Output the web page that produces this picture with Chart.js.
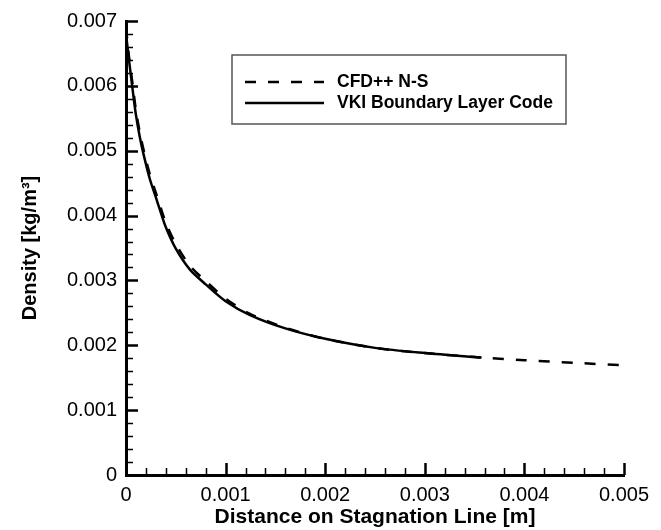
<!DOCTYPE html>
<html>
<head>
<meta charset="utf-8">
<script src="https://cdn.jsdelivr.net/npm/chart.js@4.4.1/dist/chart.umd.min.js"></script>
<style>
  html, body { margin: 0; padding: 0; background: #fff; }
  #wrap { width: 661px; height: 530px; }
</style>
</head>
<body>
<div id="wrap"><canvas id="densityChart" width="661" height="530"></canvas></div>
<script>
// Density along the stagnation line
const cfdX = [0, 0.00003, 0.00007, 0.0001, 0.00014, 0.00018, 0.00024, 0.0003, 0.0004, 0.0005, 0.00064, 0.0008, 0.001, 0.00124, 0.0016, 0.002, 0.0025, 0.003, 0.0035, 0.004, 0.0045, 0.005];
const cfdDensity = [0.0069, 0.00645, 0.00598, 0.00562, 0.00527, 0.00499, 0.00463, 0.00435, 0.00389, 0.00356, 0.00323, 0.00299, 0.00272, 0.00249, 0.00227, 0.0021, 0.00196, 0.00188, 0.00182, 0.00177, 0.00173, 0.00169];

const vkiX = [0, 0.00003, 0.00007, 0.0001, 0.00014, 0.00018, 0.00024, 0.0003, 0.00034, 0.0004, 0.0005, 0.00064, 0.0008, 0.001, 0.00124, 0.0016, 0.002, 0.0025, 0.003, 0.00357];
const vkiDensity = [0.0068, 0.0064, 0.0059, 0.00555, 0.0052, 0.00492, 0.00456, 0.00428, 0.00409, 0.00382, 0.00349, 0.00317, 0.00294, 0.00268, 0.00247, 0.00226, 0.0021, 0.00196, 0.00188, 0.00181];

const seriesNames = ['CFD++ N-S', 'VKI Boundary Layer Code'];
const xMajorStep = 0.001, xMinorStep = 0.0002;
const yMajorStep = 0.001, yMinorStep = 0.0002;

const toPoints = (xs, ys) => xs.map((x, i) => ({ x: x, y: ys[i] }));
const fmt = v => (Math.abs(v) < 1e-12 ? '0' : v.toFixed(3));

// inward tick marks (major + minor) on left and bottom axes
const inwardTicks = {
    id: 'inwardTicks',
    afterDatasetsDraw(chart) {
        const ctx = chart.ctx;
        const xs = chart.scales.x, ys = chart.scales.y;
        const left = chart.chartArea.left, bottom = chart.chartArea.bottom;
        ctx.save();
        ctx.strokeStyle = '#000';
        const nx = Math.round((xs.max - xs.min) / xMinorStep);
        for (let i = 0; i <= nx; i++) {
            const v = xs.min + i * xMinorStep;
            const major = i % Math.round(xMajorStep / xMinorStep) === 0;
            const px = Math.round(xs.getPixelForValue(v)) + 0.5;
            ctx.lineWidth = major ? 2.5 : 1.5;
            ctx.beginPath();
            ctx.moveTo(px, bottom);
            ctx.lineTo(px, bottom - (major ? 12 : 7));
            ctx.stroke();
        }
        const ny = Math.round((ys.max - ys.min) / yMinorStep);
        for (let i = 0; i <= ny; i++) {
            const v = ys.min + i * yMinorStep;
            const major = i % Math.round(yMajorStep / yMinorStep) === 0;
            const py = Math.round(ys.getPixelForValue(v)) + 0.5;
            ctx.lineWidth = major ? 2.5 : 1.5;
            ctx.beginPath();
            ctx.moveTo(left, py);
            ctx.lineTo(left + (major ? 12 : 7), py);
            ctx.stroke();
        }
        ctx.restore();
    }
};

// boxed legend inside the plot
const boxLegend = {
    id: 'boxLegend',
    afterDraw(chart) {
        const ctx = chart.ctx;
        const bx = 232, by = 55, bw = 334, bh = 69;
        ctx.save();
        ctx.strokeStyle = '#555';
        ctx.lineWidth = 1.5;
        ctx.strokeRect(bx, by, bw, bh);
        ctx.font = 'bold 17.5px "Liberation Sans", Arial, sans-serif';
        ctx.textBaseline = 'middle';
        ctx.fillStyle = '#000';
        const rows = [82, 103];
        chart.data.datasets.forEach((ds, i) => {
            ctx.strokeStyle = ds.borderColor;
            ctx.lineWidth = ds.borderWidth;
            ctx.setLineDash(ds.borderDash || []);
            ctx.beginPath();
            ctx.moveTo(245, rows[i]);
            ctx.lineTo(324, rows[i]);
            ctx.stroke();
            ctx.setLineDash([]);
            ctx.fillText(ds.label, 337, rows[i]);
        });
        ctx.restore();
    }
};

const ctx = document.getElementById('densityChart');

new Chart(ctx, {
    type: 'line',
    data: {
        datasets: [{
            label: seriesNames[0],
            data: toPoints(cfdX, cfdDensity),
            borderColor: '#000',
            borderWidth: 2.5,
            borderDash: [11, 12],
            pointRadius: 0,
            tension: 0.3,
            fill: false
        }, {
            label: seriesNames[1],
            data: toPoints(vkiX, vkiDensity),
            borderColor: '#000',
            borderWidth: 2.5,
            pointRadius: 0,
            tension: 0.3,
            fill: false
        }]
    },
    options: {
        responsive: false,
        animation: false,
        layout: {
            padding: { top: 21, right: 37, left: 0, bottom: 0 }
        },
        plugins: {
            legend: { display: false },
            tooltip: { enabled: false }
        },
        scales: {
            x: {
                type: 'linear',
                min: 0,
                max: 0.005,
                afterFit: s => { s.height = 55; },
                grid: { display: false, drawTicks: false },
                border: { display: true, color: '#000', width: 3 },
                ticks: {
                    stepSize: xMajorStep,
                    padding: 8,
                    color: '#000',
                    font: { family: '"Liberation Sans", Arial, sans-serif', size: 20 },
                    callback: v => fmt(v)
                },
                title: {
                    display: true,
                    text: 'Distance on Stagnation Line [m]',
                    color: '#000',
                    padding: { top: 0, bottom: 0 },
                    font: { family: '"Liberation Sans", Arial, sans-serif', size: 21, weight: 'bold' }
                }
            },
            y: {
                type: 'linear',
                min: 0,
                max: 0.007,
                afterFit: s => { s.width = 126; },
                grid: { display: false, drawTicks: false },
                border: { display: true, color: '#000', width: 3 },
                ticks: {
                    stepSize: yMajorStep,
                    padding: 9,
                    color: '#000',
                    font: { family: '"Liberation Sans", Arial, sans-serif', size: 20 },
                    callback: v => fmt(v)
                },
                title: {
                    display: true,
                    text: 'Density [kg/m³]',
                    color: '#000',
                    padding: { top: 18, bottom: 0 },
                    font: { family: '"Liberation Sans", Arial, sans-serif', size: 20, weight: 'bold' }
                }
            }
        }
    },
    plugins: [inwardTicks, boxLegend]
});
</script>
</body>
</html>
